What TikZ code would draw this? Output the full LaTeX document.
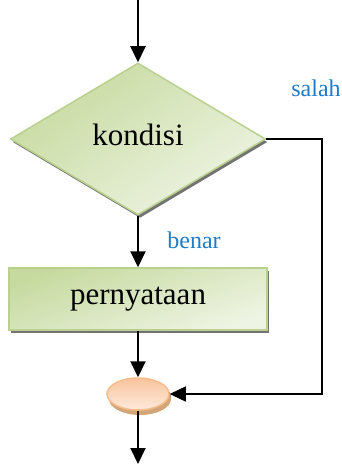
\documentclass[tikz,border=0pt]{standalone}
\usepackage{fontspec}
\setmainfont{Liberation Serif}
\usepackage{tikz}
\usetikzlibrary{positioning, arrows.meta, shapes.geometric, shadows}

\definecolor{hijauTepi}{HTML}{B9D08E}
\definecolor{hijauTua}{HTML}{C6DA9F}
\definecolor{hijauMuda}{HTML}{EEF4E3}
\definecolor{jinggaTepi}{HTML}{F7BC8C}
\definecolor{jinggaTua}{HTML}{F9C49C}
\definecolor{jinggaMuda}{HTML}{FDEADB}
\definecolor{biru}{HTML}{1F7CC6}

\begin{document}
\begin{tikzpicture}[x=1pt, y=-1pt, thick, >={Triangle[width=15pt,length=16pt]},
  main/.style = {draw=hijauTepi, line width=1.5pt, top color=hijauTua, bottom color=hijauMuda, shading angle=35,
    font=\fontsize{31}{31}\selectfont, inner sep=0pt,
    drop shadow={shadow xshift=2pt, shadow yshift=-3pt, fill=black!55, opacity=1}},
  label/.style = {text=biru, font=\fontsize{24}{24}\selectfont},
  panah/.style = {->, line width=2pt}]
\useasboundingbox (0,0) rectangle (342,464);

\node[main, diamond, minimum width=255pt, minimum height=152pt] (kond) at (138,139) {\raisebox{9pt}{kondisi}};
\node[main, rectangle, minimum width=258pt, minimum height=62pt, shading angle=20] (pern) [below of=kond, node distance=160pt] {pernyataan};
\node[main, ellipse, draw=jinggaTepi, top color=jinggaTua, bottom color=jinggaMuda, minimum width=62pt, minimum height=32pt,
  drop shadow={shadow xshift=2pt, shadow yshift=-5pt, fill=brown!70, opacity=1}] (sambung) [below of=pern, node distance=95pt] {};

\coordinate (awal) at (kond.north |- 0,0);
\coordinate (akhir) at (sambung.south |- 0,464);
\coordinate (belok) at (322,394);

\node[label] (salah) at (316,88) {salah};
\node[label] (benar) at (194,240) {benar};

\draw[panah] (awal) -- (kond);
\draw[panah] (kond) -- (pern);
\draw[panah] (pern) -- (sambung);
\draw[panah] (sambung) -- (akhir);
\draw[->, line width=1.4pt] (kond.east) -| (belok) -- (sambung.east);

\end{tikzpicture}
\end{document}
